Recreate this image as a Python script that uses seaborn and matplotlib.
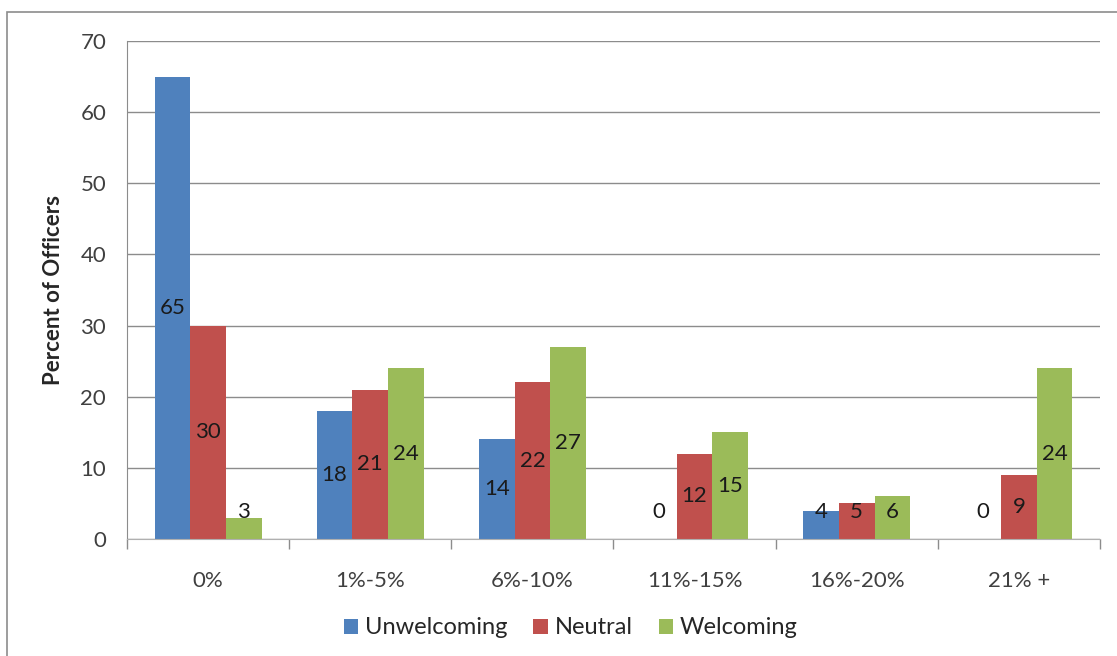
import pandas as pd
import matplotlib.pyplot as plt
import matplotlib.patches as patches
import seaborn as sns

categories = ['0%', '1%-5%', '6%-10%', '11%-15%', '16%-20%', '21% +']
unwelcoming = [65, 18, 14, 0, 4, 0]
neutral = [30, 21, 22, 12, 5, 9]
welcoming = [3, 24, 27, 15, 6, 24]
series = ['Unwelcoming', 'Neutral', 'Welcoming']
colors = ['#4F81BD', '#C0504D', '#9BBB59']

rows = []
for name, vals in zip(series, [unwelcoming, neutral, welcoming]):
    for c, v in zip(categories, vals):
        rows.append({'Range': c, 'Attitude': name, 'Percent': v})
df = pd.DataFrame(rows)

sns.set_style('white')
plt.rcParams['font.family'] = ['Lato', 'DejaVu Sans']

fig = plt.figure(figsize=(11.17, 6.56), dpi=100)
ax = fig.add_axes([0.1137, 0.1784, 0.871, 0.7591])
ax = sns.barplot(data=df, x='Range', y='Percent', hue='Attitude', order=categories,
                 hue_order=series, palette=colors, width=0.66, saturation=1,
                 edgecolor='none', ax=ax)

# data labels, centred in the bars like Excel does (small bars get bumped up)
for cont in ax.containers:
    for bar in cont:
        h = bar.get_height()
        ypos = max(h / 2, 3.8)
        ax.text(bar.get_x() + bar.get_width() / 2, ypos, '%d' % h,
                ha='center', va='center', fontsize=16, color='#1a1a1a')

ax.set_xlim(-0.5, 5.5)
ax.set_ylim(0, 70)
ax.set_yticks(range(0, 71, 10))
ax.yaxis.grid(True, color='#8c8c8c', linewidth=1)
ax.set_axisbelow(True)
ax.set_xlabel('')
ax.set_ylabel('Percent of Officers', fontsize=16, fontweight='bold', labelpad=12)

ax.set_xticks([i - 0.5 for i in range(7)], minor=True)
ax.tick_params(axis='x', which='major', length=0, pad=23, labelsize=16, labelcolor='#404040')
ax.tick_params(axis='x', which='minor', length=7, color='#8c8c8c', width=1, direction='out')
ax.tick_params(axis='y', length=7, color='#8c8c8c', width=1, direction='out',
               labelsize=16, labelcolor='#404040', pad=8)
ax.xaxis.set_tick_params(which='minor', bottom=True)

for s in ['top', 'right']:
    ax.spines[s].set_visible(False)
ax.spines['left'].set_color('#8c8c8c')
ax.spines['bottom'].set_color('#b0b0b0')

ax.legend(loc='upper center', bbox_to_anchor=(0.456, -0.115), ncol=3, frameon=False,
          fontsize=17, handlelength=0.6, handleheight=0.6, handletextpad=0.3,
          columnspacing=1.1, labelcolor='#262626')

rect = patches.Rectangle((0.0063, -0.05), 1.2, 1 - 12 / 656 + 0.05, transform=fig.transFigure,
                         fill=False, edgecolor='#8c8c8c', linewidth=1.2)
fig.patches.append(rect)

plt.savefig('out.png', dpi=100)
